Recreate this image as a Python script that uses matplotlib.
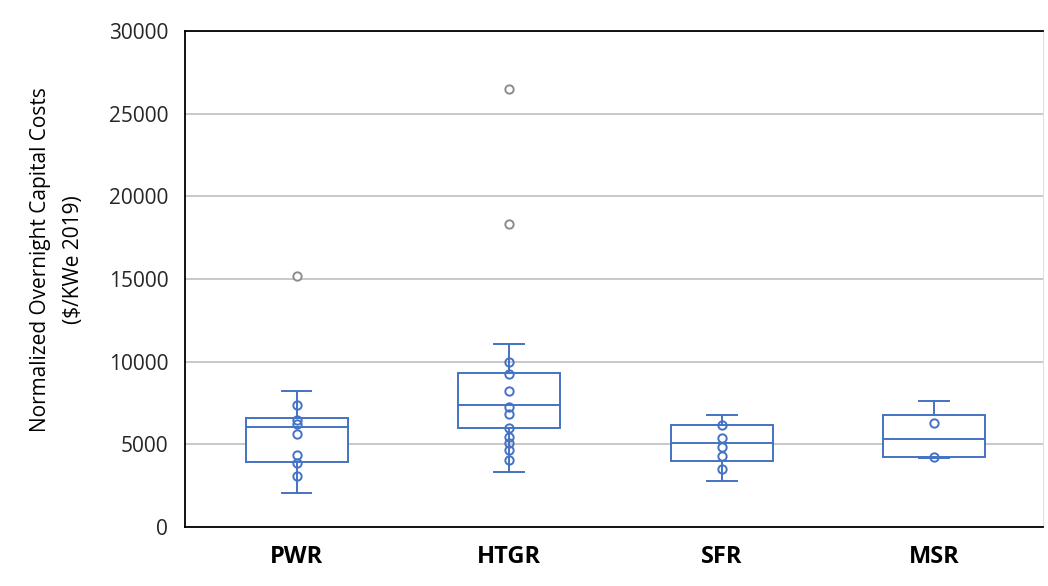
import matplotlib.pyplot as plt

plt.rcParams['font.family'] = ['Open Sans', 'DejaVu Sans']

# reactor types and their cost statistics ($/kWe, 2019)
reactors = ['PWR', 'HTGR', 'SFR', 'MSR']
whisker_low = [2050, 3300, 2800, 4200]
q1 = [3950, 5990, 4020, 4230]
medians = [6050, 7400, 5110, 5340]
q3 = [6600, 9330, 6190, 6800]
whisker_high = [8200, 11050, 6800, 7610]

# individual estimates inside the whiskers
pwr_points = [7400, 6500, 6250, 5650, 4350, 3850, 3100]
htgr_points = [9980, 9250, 8230, 7260, 6840, 5990, 5440, 5080, 4660, 4050]
sfr_points = [6200, 5380, 4870, 4270, 3500]
msr_points = [6300, 4230]
inner_points = [pwr_points, htgr_points, sfr_points, msr_points]

# outliers beyond the whiskers
outliers = [[15200], [26500, 18350], [], []]

blue = '#4472c4'
grey_pt = '#8c8c8c'

fig = plt.figure(figsize=(10.48, 5.86), dpi=100)
ax = fig.add_axes([0.1765, 0.1007, 0.8185, 0.846])

stats = []
for i, name in enumerate(reactors):
    stats.append({'label': name, 'whislo': whisker_low[i], 'q1': q1[i], 'med': medians[i],
                  'q3': q3[i], 'whishi': whisker_high[i], 'fliers': outliers[i]})

pos = list(range(len(reactors)))
ax.bxp(stats, positions=pos, widths=0.48, patch_artist=True, capwidths=0.14,
       boxprops=dict(facecolor='white', edgecolor=blue, linewidth=1.4),
       medianprops=dict(color=blue, linewidth=1.4),
       whiskerprops=dict(color=blue, linewidth=1.4),
       capprops=dict(color=blue, linewidth=1.4),
       flierprops=dict(marker='o', markerfacecolor='white', markeredgecolor=grey_pt,
                       markersize=6, markeredgewidth=1.4),
       zorder=3)

for i, pts in enumerate(inner_points):
    ax.plot([pos[i]] * len(pts), pts, 'o', color=blue, markerfacecolor='none',
            markersize=6, markeredgewidth=1.4, zorder=4)

ax.set_xlim(-0.525, 3.51)
ax.set_ylim(0, 30000)
ax.set_yticks(range(0, 30001, 5000))
ax.set_xticks(pos)
ax.set_xticklabels(reactors, fontsize=17, fontweight='bold')
ax.tick_params(axis='y', length=0, pad=12, labelsize=15, labelcolor='#262626')
ax.tick_params(axis='x', length=0, pad=13)

ax.yaxis.grid(True, color='#bfbfbf', linewidth=1.2, zorder=0)
ax.set_axisbelow(True)

for side in ['left', 'top', 'bottom']:
    ax.spines[side].set_color('black')
    ax.spines[side].set_linewidth(1.3)
ax.spines['right'].set_color('#e0e0e0')

ax.set_ylabel('Normalized Overnight Capital Costs\n($/KWe 2019)', fontsize=15,
              linespacing=1.75)
ax.yaxis.set_label_coords(-0.118, 0.54)

fig.savefig('out.png', dpi=100)
